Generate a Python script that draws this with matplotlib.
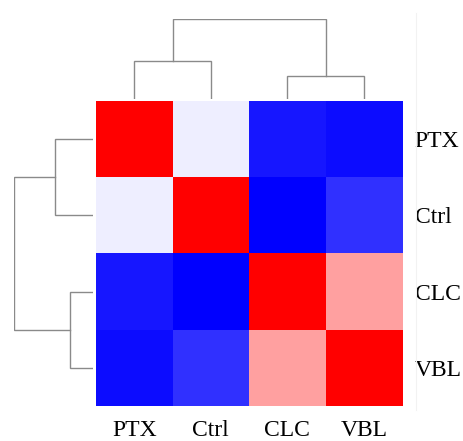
import matplotlib
matplotlib.use('Agg')
import matplotlib.pyplot as plt
from matplotlib.lines import Line2D
import numpy as np

# samples in clustered order
labels = ['PTX', 'Ctrl', 'CLC', 'VBL']

# correlation matrix (rows/cols in the order of labels)
corr = np.array([
    [1.00, -0.07, -0.91, -0.95],
    [-0.07, 1.00, -1.00, -0.81],
    [-0.91, -1.00, 1.00, 0.37],
    [-0.95, -0.81, 0.37, 1.00],
])

# linkage: (left leaf pos, right leaf pos, merge height), leaf positions in cell units
merge_left = [0.5, 2.5, 1.0]
merge_right = [1.5, 3.5, 3.0]
merge_height = [0.475, 0.29, 1.0]
# heights of the children of each merge (0 = leaf)
child_left_h = [0.0, 0.0, 0.475]
child_right_h = [0.0, 0.0, 0.29]

plt.rcParams['font.family'] = ['Liberation Serif', 'DejaVu Serif']

fig = plt.figure(figsize=(4.64, 4.41), dpi=100)
fig.patch.set_facecolor('white')

ax = fig.add_axes([0.2069, 0.0794, 0.6595, 0.6916])
ax.imshow(corr, cmap='bwr', vmin=-1, vmax=1, aspect='auto',
          extent=(0, 4, 4, 0), interpolation='nearest')
ax.set_xlim(0, 4)
ax.set_ylim(4, 0)
ax.set_xticks(np.arange(4) + 0.5)
ax.set_xticklabels(labels, fontsize=17)
ax.set_yticks(np.arange(4) + 0.5)
ax.set_yticklabels(labels, fontsize=17)
ax.yaxis.tick_right()
ax.tick_params(axis='both', length=0)
ax.tick_params(axis='x', pad=10)
ax.tick_params(axis='y', pad=9)
for s in ax.spines.values():
    s.set_visible(False)

col = '#8a8a8a'
lw = 1.0

# top dendrogram
axt = fig.add_axes([0.2069, 0.7755, 0.6595, 0.1814])
for i in range(len(merge_height)):
    xl, xr, h = merge_left[i], merge_right[i], merge_height[i]
    axt.plot([xl, xl, xr, xr], [child_left_h[i], h, h, child_right_h[i]],
             color=col, lw=lw, solid_joinstyle='miter')
axt.set_xlim(0, 4)
axt.set_ylim(0, 1)
axt.axis('off')

# left dendrogram
axl = fig.add_axes([0.0302, 0.0794, 0.170, 0.6916])
for i in range(len(merge_height)):
    yl, yr, h = merge_left[i], merge_right[i], merge_height[i]
    axl.plot([child_left_h[i], h, h, child_right_h[i]], [yl, yl, yr, yr],
             color=col, lw=lw, solid_joinstyle='miter')
axl.set_ylim(4, 0)
axl.set_xlim(1, 0)
axl.axis('off')

# faint border line on the right
fig.add_artist(Line2D([0.8966, 0.8966], [0.07, 0.97], color='#f2f2f2', lw=0.8))

fig.savefig('out.png', dpi=100)
